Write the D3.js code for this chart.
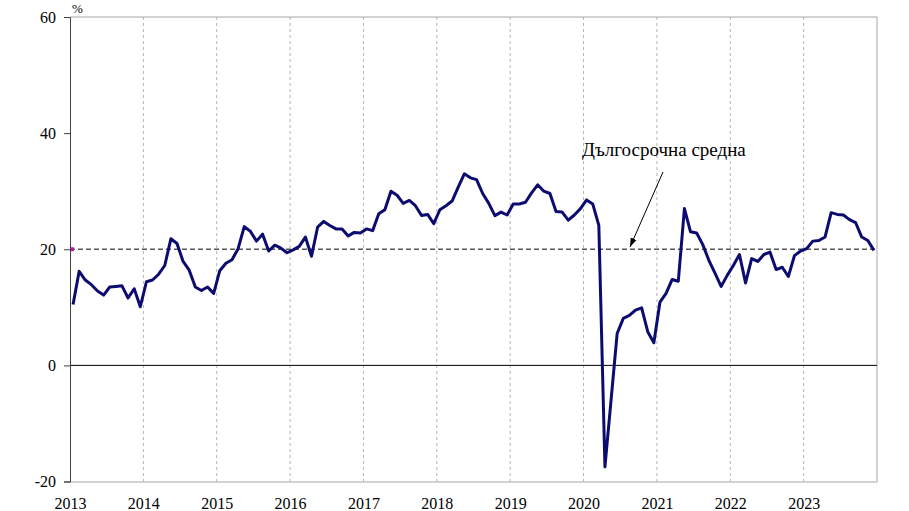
<!DOCTYPE html>
<html>
<head>
<meta charset="utf-8">
<script src="https://cdn.jsdelivr.net/npm/d3@7"></script>
<style>
  html, body { margin: 0; padding: 0; background: #fff; }
  svg { display: block; }
  text { font-family: "Liberation Serif", "Times New Roman", serif; }
</style>
</head>
<body>
<svg id="chart" width="909" height="511"></svg>
<script>
// ---- Data (monthly, Jan 2013 – Dec 2023) ----
const startYear = 2013;
const yearLabels = ["2013","2014","2015","2016","2017","2018","2019","2020","2021","2022","2023"];
const yTicks = [-20, 0, 20, 40, 60];
const longTermAverage = 20;
const annotationText = "Дългосрочна средна";
const unitLabel = "%";
const values = [
  10.5, 16.2, 14.7, 13.9, 12.8, 12.1, 13.5, 13.6, 13.7, 11.6, 13.2, 10.1,
  14.4, 14.7, 15.7, 17.2, 21.8, 21.0, 17.9, 16.4, 13.5, 12.9, 13.5, 12.4,
  16.3, 17.6, 18.2, 20.1, 23.9, 23.1, 21.4, 22.6, 19.7, 20.7, 20.2, 19.4,
  19.9, 20.5, 22.1, 18.8, 23.8, 24.8, 24.1, 23.5, 23.5, 22.3, 22.9, 22.8,
  23.5, 23.2, 26.1, 26.8, 30.0, 29.3, 27.9, 28.4, 27.5, 25.8, 26.0, 24.4,
  26.8, 27.5, 28.3, 30.7, 33.0, 32.3, 32.0, 29.6, 27.9, 25.8, 26.4, 25.9,
  27.8, 27.8, 28.1, 29.7, 31.1, 30.0, 29.6, 26.5, 26.4, 25.0, 25.9, 27.0,
  28.5, 27.8, 24.1, -17.5, -6.0, 5.5, 8.1, 8.6, 9.5, 9.9, 5.8, 3.9,
  10.9, 12.4, 14.8, 14.5, 27.0, 23.0, 22.8, 20.8, 18.1, 15.9, 13.6, 15.5,
  17.2, 19.1, 14.2, 18.4, 17.9, 19.1, 19.5, 16.5, 16.9, 15.3, 18.9, 19.7,
  20.1, 21.4, 21.5, 22.1, 26.3, 26.0, 25.9, 25.1, 24.6, 22.1, 21.5, 19.8
];

(function () {
  // ---- Layout ----
  const svg = d3.select("#chart");
  const mLeft = 70, mRight = 877, mTop = 17, mBottom = 481.5;
  const nMonths = yearLabels.length * 12;

  const x = d3.scaleLinear().domain([0, nMonths]).range([mLeft, mRight]);
  const y = d3.scaleLinear().domain([-20, 60]).range([mBottom, mTop]);

  // frame (top & right)
  svg.append("path")
    .attr("d", `M${mLeft},${mTop}H${mRight}V${mBottom}`)
    .attr("fill", "none").attr("stroke", "#a6a6a6").attr("stroke-width", 1);

  // vertical dashed year gridlines
  svg.append("g").selectAll("line")
    .data(yearLabels.slice(1).map((d, i) => (i + 1) * 12))
    .join("line")
    .attr("x1", d => x(d)).attr("x2", d => x(d))
    .attr("y1", mTop).attr("y2", mBottom)
    .attr("stroke", "#b4b4b4").attr("stroke-width", 1)
    .attr("stroke-dasharray", "3,3");

  // zero line
  svg.append("line")
    .attr("x1", mLeft).attr("x2", mRight)
    .attr("y1", y(0)).attr("y2", y(0))
    .attr("stroke", "#000").attr("stroke-width", 1);

  // long-term average dashed line
  svg.append("line")
    .attr("x1", mLeft).attr("x2", mRight)
    .attr("y1", y(longTermAverage)).attr("y2", y(longTermAverage))
    .attr("stroke", "#555").attr("stroke-width", 1.3)
    .attr("stroke-dasharray", "5,3");
  svg.append("rect")
    .attr("x", mLeft).attr("y", y(longTermAverage) - 2)
    .attr("width", 4).attr("height", 4)
    .attr("fill", "#b020b0");

  // bottom axis (labels only)
  const xAxis = d3.axisBottom(x)
    .tickValues(yearLabels.map((d, i) => i * 12))
    .tickFormat((d, i) => yearLabels[i])
    .tickSize(0).tickPadding(16);
  const gx = svg.append("g").attr("transform", `translate(0,${mBottom})`).call(xAxis);
  gx.select(".domain").attr("stroke", "#a6a6a6");
  gx.selectAll("text").attr("font-size", 16).attr("fill", "#000")
    .style("font-family", '"Liberation Serif", serif');

  // left axis
  const yAxis = d3.axisLeft(y).tickValues(yTicks).tickSize(6).tickPadding(8)
    .tickFormat(d => String(d));
  const gy = svg.append("g").attr("transform", `translate(${mLeft},0)`).call(yAxis);
  gy.select(".domain").attr("stroke", "#404040");
  gy.selectAll(".tick line").attr("stroke", "#404040");
  gy.selectAll("text").attr("font-size", 16).attr("fill", "#000")
    .style("font-family", '"Liberation Serif", serif');

  // unit label
  svg.append("text").attr("x", 72).attr("y", 13)
    .attr("font-size", 13).text(unitLabel);

  // data line
  const line = d3.line()
    .x((d, i) => x(i + 0.5))
    .y(d => y(d));
  svg.append("path")
    .datum(values)
    .attr("fill", "none")
    .attr("stroke", "#0c0c70")
    .attr("stroke-width", 3)
    .attr("stroke-linejoin", "round")
    .attr("d", line);

  // annotation
  const defs = svg.append("defs");
  defs.append("marker")
    .attr("id", "arrow").attr("viewBox", "0 0 10 10")
    .attr("refX", 10).attr("refY", 5)
    .attr("markerWidth", 9).attr("markerHeight", 9)
    .attr("markerUnits", "userSpaceOnUse")
    .attr("orient", "auto")
    .append("path").attr("d", "M0,1.5L10,5L0,8.5Z").attr("fill", "#000");

  svg.append("line")
    .attr("x1", 663).attr("y1", 172)
    .attr("x2", 630).attr("y2", 247)
    .attr("stroke", "#000").attr("stroke-width", 1)
    .attr("marker-end", "url(#arrow)");

  svg.append("text")
    .attr("x", 582).attr("y", 156)
    .attr("font-size", 19)
    .text(annotationText);
})();
</script>
</body>
</html>
